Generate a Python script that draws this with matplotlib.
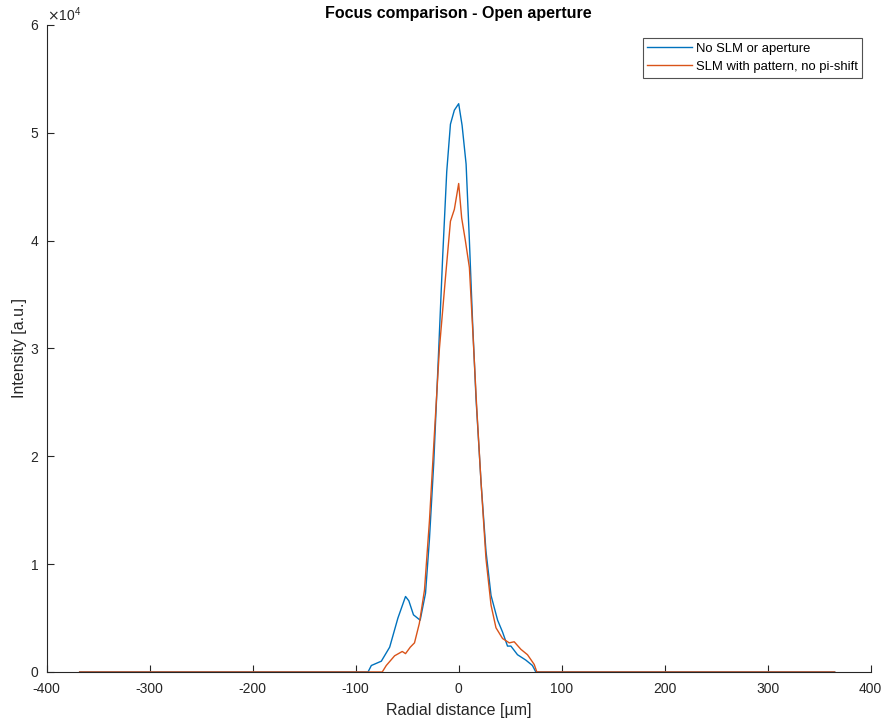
import matplotlib
matplotlib.use("Agg")
import matplotlib.pyplot as plt
from matplotlib.ticker import MultipleLocator, ScalarFormatter

plt.rcParams['font.family'] = ['Liberation Sans', 'DejaVu Sans']
plt.rcParams['axes.unicode_minus'] = False

# Data (radial distance in µm, intensity in a.u.)
x_blue = [-368, -88, -84.8, -75.1, -67, -59, -51.6, -48.4, -43.9, -37.4, -32.2, -28.4, -24.2,
          -20.3, -15.5, -11.6, -8, -4.2, 0, 3.3, 7.2, 10.4, 13.6, 16.8, 21.7, 26.5, 31.4,
          37.8, 42.6, 47.4, 50.7, 57.1, 65.2, 71.6, 74.9, 365]
y_blue = [0, 0, 600, 1000, 2300, 5000, 7000, 6600, 5300, 4800, 7300, 12300, 19400,
          27900, 38600, 46400, 50800, 52100, 52700, 50700, 47100, 40000, 32200, 25400, 17600,
          11200, 7100, 4800, 3700, 2400, 2400, 1600, 1100, 600, 0, 0]

x_orange = [-368, -74.2, -70.3, -62.2, -54.8, -51.6, -47, -42.9, -38.2, -33.2, -28.4, -23.5,
            -18.7, -12.9, -8, -4.2, 0, 2.9, 6.5, 10.4, 13.6, 17.4, 21.7, 26.5, 31.4, 36.2,
            42.6, 49.1, 53.9, 60.4, 66.8, 73.3, 75.9, 365]
y_orange = [0, 0, 600, 1500, 1900, 1700, 2300, 2700, 4500, 7600, 14000, 22200,
            30000, 36500, 41800, 42900, 45300, 42100, 40000, 37500, 31800, 24700, 17600, 10500,
            6200, 4100, 3100, 2700, 2800, 2100, 1600, 700, 0, 0]

labels = ["No SLM or aperture", "SLM with pattern, no pi-shift"]
title = "Focus comparison - Open aperture"

fig = plt.figure(figsize=(8.86, 7.22), dpi=100)
ax = fig.add_axes([0.0527, 0.0693, 0.93, 0.8961])

ax.plot(x_blue, y_blue, color='#0072BD', lw=1.0, label=labels[0])
ax.plot(x_orange, y_orange, color='#D95319', lw=1.0, label=labels[1])

ax.set_xlim(-400, 400)
ax.set_ylim(0, 60000)
ax.xaxis.set_major_locator(MultipleLocator(100))
ax.yaxis.set_major_locator(MultipleLocator(10000))
fmt = ScalarFormatter(useMathText=True)
fmt.set_powerlimits((0, 0))
ax.yaxis.set_major_formatter(fmt)

for s in ['top', 'right']:
    ax.spines[s].set_visible(False)
for s in ['left', 'bottom']:
    ax.spines[s].set_color('#262626')
    ax.spines[s].set_linewidth(0.8)
ax.tick_params(direction='in', colors='#262626', labelsize=10, length=5, width=0.8)
ax.tick_params(axis='x', pad=7.2)
ax.tick_params(axis='y', pad=5.2)
ax.yaxis.get_offset_text().set_fontsize(10)
ax.yaxis.get_offset_text().set_color('#262626')

ax.set_xlabel("Radial distance [µm]", fontsize=11.5, color='#262626', labelpad=5)
ax.set_ylabel("Intensity [a.u.]", fontsize=11.5, color='#262626', labelpad=2)
ax.set_title(title, fontsize=11.5, fontweight='bold', color='black', pad=5)

leg = ax.legend(loc='upper right', fontsize=9.4, frameon=True, fancybox=False,
                edgecolor='#262626', handlelength=3.4, handletextpad=0.3, borderpad=0.35,
                labelspacing=0.45, borderaxespad=0, bbox_to_anchor=(0.9895, 0.9795))
leg.get_frame().set_linewidth(0.8)

fig.savefig("out.png", dpi=100)
